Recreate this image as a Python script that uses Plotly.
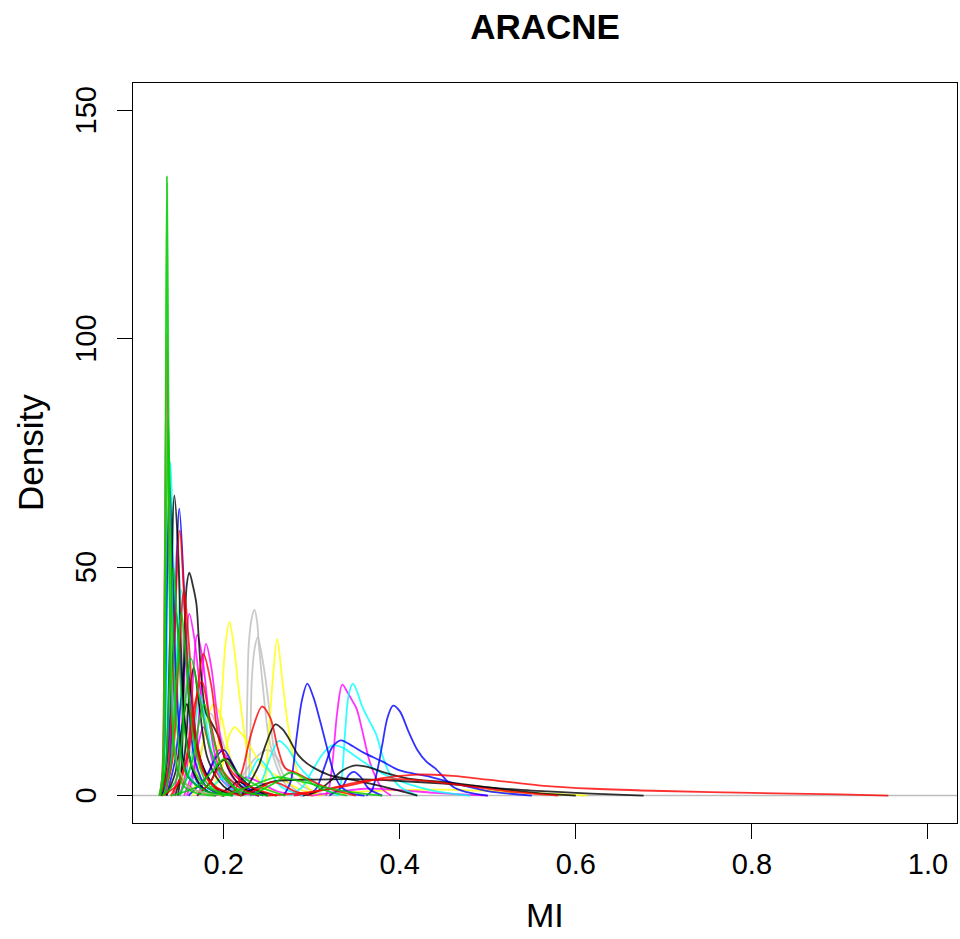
import plotly.graph_objects as go

# ---------------- data ----------------
# Each colour group: list of curves, every curve given as x-list / y-list
black_x = [
    [0.129, 0.134, 0.139, 0.144, 0.148, 0.152, 0.158, 0.166, 0.18, 0.2],
    [0.148, 0.152, 0.155, 0.158, 0.161, 0.165, 0.169, 0.1715, 0.175, 0.18, 0.186, 0.194, 0.205, 0.22, 0.24],
    [0.22, 0.228, 0.24, 0.2475, 0.2588, 0.267, 0.274, 0.285, 0.295, 0.304, 0.32, 0.345, 0.38, 0.42],
    [0.29, 0.305, 0.32, 0.335, 0.35, 0.365, 0.38, 0.41, 0.448, 0.48, 0.52, 0.56, 0.6],
    [0.22, 0.24, 0.26, 0.3, 0.35, 0.4, 0.45, 0.5, 0.55, 0.6, 0.64, 0.677],
    [0.17, 0.185, 0.195, 0.205, 0.215, 0.23, 0.25],
    [0.135, 0.145, 0.152, 0.158, 0.165, 0.175, 0.19, 0.21],
    [0.19, 0.205, 0.215, 0.225, 0.24, 0.26],
    [0.145, 0.155, 0.161, 0.166, 0.172, 0.182, 0.2, 0.22],
]
black_y = [
    [0, 5, 35, 65.7, 55, 30, 12, 5, 1, 0],
    [0, 6, 30, 46, 48.8, 46, 42, 35, 25, 18, 16, 13, 6, 2, 0],
    [0, 2.3, 6.6, 11, 15.6, 14.5, 12.5, 8.8, 7, 5.9, 4.5, 3.5, 2, 0],
    [0, 0.8, 3, 5.5, 6.6, 6.2, 5.2, 3.7, 3, 2.3, 1.3, 0.5, 0],
    [0, 2, 3.2, 3.5, 3.6, 3.2, 2.6, 1.8, 1.1, 0.6, 0.25, 0],
    [0, 3, 7, 8, 5, 2, 0],
    [0, 5, 14, 20, 15, 7, 2, 0],
    [0, 1.5, 3, 2.5, 1, 0],
    [0, 8, 22, 28, 20, 8, 2, 0],
]

red_x = [
    [0.127, 0.130, 0.133, 0.1355, 0.138, 0.141, 0.146, 0.155, 0.17, 0.2],
    [0.128, 0.136, 0.143, 0.150, 0.156, 0.163, 0.175, 0.19, 0.22],
    [0.13, 0.15, 0.165, 0.177, 0.186, 0.195, 0.21, 0.23, 0.26],
    [0.208, 0.215, 0.222, 0.232, 0.2436, 0.253, 0.262, 0.27, 0.282, 0.297, 0.32, 0.35],
    [0.25, 0.30, 0.35, 0.38, 0.42, 0.46, 0.50, 0.56, 0.62, 0.70, 0.80, 0.90, 0.955],
    [0.28, 0.32, 0.36, 0.40, 0.44, 0.48, 0.52, 0.58],
    [0.14, 0.155, 0.165, 0.175, 0.185, 0.2, 0.22],
    [0.17, 0.185, 0.195, 0.205, 0.22, 0.24],
    [0.133, 0.142, 0.149, 0.155, 0.161, 0.168, 0.18, 0.2],
    [0.22, 0.24, 0.255, 0.265, 0.28, 0.3],
]
red_y = [
    [0, 4, 50, 101, 60, 22, 8, 3, 1, 0],
    [0, 5, 30, 58, 40, 18, 6, 2, 0],
    [0, 3, 15, 31, 24, 12, 5, 2, 0],
    [0, 2, 6, 14, 19.5, 17, 10, 6, 5, 3.5, 1.5, 0],
    [0, 0.8, 2.5, 3.8, 4.6, 4.3, 3.5, 2.2, 1.5, 1.0, 0.6, 0.25, 0],
    [0, 1.5, 3.2, 3.6, 3.0, 2.0, 1.0, 0],
    [0, 6, 18, 25, 16, 5, 0],
    [0, 3, 6, 4, 1.5, 0],
    [0, 8, 30, 45, 32, 14, 4, 0],
    [0, 1.5, 3, 2.5, 1, 0],
]

green_x = [
    [0.127, 0.131, 0.134, 0.137, 0.140, 0.144, 0.15, 0.16, 0.18, 0.21],
    [0.128, 0.134, 0.139, 0.143, 0.148, 0.155, 0.165, 0.18, 0.21],
    [0.13, 0.145, 0.155, 0.163, 0.172, 0.185, 0.2, 0.22, 0.25],
    [0.14, 0.17, 0.19, 0.2, 0.215, 0.24, 0.27],
    [0.2, 0.23, 0.26, 0.29, 0.33, 0.38],
    [0.15, 0.165, 0.172, 0.178, 0.186, 0.2, 0.22],
    [0.132, 0.14, 0.147, 0.152, 0.158, 0.166, 0.18, 0.2],
    [0.23, 0.26, 0.275, 0.29, 0.31, 0.34],
    [0.127, 0.130, 0.1325, 0.134, 0.1355, 0.137, 0.139, 0.142, 0.147, 0.155, 0.17, 0.19],
]
green_y = [
    [0, 4, 40, 82, 55, 25, 10, 4, 1, 0],
    [0, 6, 30, 50, 35, 15, 6, 2, 0],
    [0, 3, 18, 30, 22, 10, 4, 1, 0],
    [0, 2, 6, 8, 5, 2, 0],
    [0, 2, 4, 3, 1.2, 0],
    [0, 8, 16, 20, 14, 5, 0],
    [0, 7, 28, 40, 28, 12, 3, 0],
    [0, 3, 5, 4, 1.5, 0],
    [0, 3, 25, 80, 135.5, 90, 40, 15, 6, 2, 0.5, 0],
]

lightgreen_x = [
    [0.127, 0.131, 0.1335, 0.1358, 0.138, 0.141, 0.146, 0.16, 0.2],
]
lightgreen_y = [
    [0, 5, 50, 134, 70, 25, 8, 2, 0],
]

blue_x = [
    [0.128, 0.132, 0.135, 0.1385, 0.142, 0.146, 0.152, 0.16, 0.18, 0.2],
    [0.13, 0.138, 0.144, 0.1496, 0.155, 0.16, 0.167, 0.18, 0.2],
    [0.268, 0.276, 0.283, 0.289, 0.295, 0.302, 0.31, 0.318, 0.325, 0.333, 0.345, 0.36],
    [0.362, 0.368, 0.374, 0.38, 0.386, 0.3924, 0.40, 0.41, 0.42, 0.43, 0.44, 0.45, 0.46, 0.475, 0.5],
    [0.295, 0.305, 0.315, 0.323, 0.333, 0.345, 0.36, 0.38, 0.40, 0.43, 0.46, 0.5, 0.55],
    [0.135, 0.145, 0.152, 0.157, 0.163, 0.172, 0.185, 0.2],
    [0.16, 0.18, 0.19, 0.2, 0.21, 0.225, 0.245],
    [0.32, 0.335, 0.342, 0.348, 0.355, 0.365, 0.38],
    [0.13, 0.137, 0.142, 0.146, 0.151, 0.158, 0.17, 0.19],
]
blue_y = [
    [0, 8, 40, 68.4, 50, 25, 10, 4, 1, 0],
    [0, 6, 35, 62.8, 45, 22, 8, 2, 0],
    [0, 3, 13, 21, 24.5, 21.5, 16, 10, 5, 2, 0.5, 0],
    [0, 1, 5, 11, 17, 19.7, 18.5, 14, 10, 7.5, 6, 4, 2, 0.8, 0],
    [0, 1.5, 6.5, 10.5, 12.1, 11, 9.3, 7.5, 5.5, 4.3, 2.8, 1, 0],
    [0, 8, 22, 30, 22, 9, 3, 0],
    [0, 4, 8, 10, 7, 2, 0],
    [0, 2, 4.5, 5.2, 4.2, 1.5, 0],
    [0, 10, 30, 40, 28, 12, 3, 0],
]

cyan_x = [
    [0.128, 0.133, 0.1365, 0.1397, 0.143, 0.147, 0.153, 0.162, 0.18, 0.2],
    [0.33, 0.334, 0.338, 0.342, 0.3468, 0.352, 0.357, 0.365, 0.373, 0.38, 0.388, 0.40, 0.42],
    [0.235, 0.245, 0.252, 0.2626, 0.272, 0.285, 0.297, 0.31, 0.33],
    [0.275, 0.29, 0.30, 0.312, 0.323, 0.335, 0.354, 0.37, 0.385, 0.41, 0.44, 0.48],
    [0.132, 0.14, 0.146, 0.152, 0.158, 0.165, 0.175, 0.19, 0.21],
    [0.15, 0.162, 0.168, 0.173, 0.18, 0.19, 0.205, 0.225],
    [0.17, 0.19, 0.2, 0.21, 0.225, 0.25],
    [0.21, 0.228, 0.24, 0.25, 0.265, 0.29],
]
cyan_y = [
    [0, 8, 45, 73, 50, 25, 10, 4, 1, 0],
    [0, 3.7, 14, 22, 24.5, 22.5, 19.7, 16.5, 13.5, 9, 5, 2, 0],
    [0, 4, 8, 12, 10.5, 6.6, 4, 2, 0],
    [0, 2, 5.2, 9, 11, 10.5, 8, 6, 4.4, 2.5, 1, 0],
    [0, 6, 28, 45, 35, 18, 7, 2, 0],
    [0, 6, 16, 22, 16, 7, 2, 0],
    [0, 2.5, 4, 3, 1, 0],
    [0, 4, 8, 6, 2, 0],
]

magenta_x = [
    [0.143, 0.150, 0.155, 0.161, 0.167, 0.174, 0.182, 0.19, 0.20, 0.215, 0.24],
    [0.150, 0.158, 0.164, 0.170, 0.176, 0.183, 0.19, 0.2, 0.215, 0.24],
    [0.158, 0.166, 0.173, 0.180, 0.186, 0.193, 0.2, 0.21, 0.225, 0.25],
    [0.316, 0.32, 0.3245, 0.329, 0.3347, 0.3404, 0.346, 0.351, 0.357, 0.365, 0.372, 0.38, 0.39],
    [0.17, 0.185, 0.195, 0.205, 0.22, 0.24],
    [0.19, 0.21, 0.225, 0.24, 0.26, 0.29],
    [0.3, 0.33, 0.36, 0.40, 0.44, 0.5],
    [0.155, 0.166, 0.172, 0.177, 0.185, 0.2, 0.22],
]
magenta_y = [
    [0, 8, 25, 39.8, 34, 22, 12, 6, 3, 1, 0],
    [0, 6, 22, 35.2, 30, 18, 9, 4, 1, 0],
    [0, 5, 20, 33.2, 28, 17, 9, 4, 1.5, 0],
    [0, 2, 9, 18.3, 24.3, 22.7, 20.8, 19, 14.6, 8, 4.3, 1.5, 0],
    [0, 6, 10, 8, 3, 0],
    [0, 2, 4, 3, 1, 0],
    [0, 0.8, 1.5, 1.2, 0.6, 0],
    [0, 6, 12, 15, 10, 3, 0],
]

yellow_x = [
    [0.186, 0.1905, 0.194, 0.198, 0.202, 0.2065, 0.2114, 0.217, 0.2228, 0.2285, 0.236, 0.25, 0.27],
    [0.243, 0.2475, 0.2512, 0.2558, 0.2607, 0.2664, 0.272, 0.278, 0.2854, 0.297, 0.31],
    [0.185, 0.195, 0.202, 0.207, 0.2125, 0.218, 0.2247, 0.236, 0.2475, 0.266, 0.285, 0.31],
    [0.165, 0.172, 0.179, 0.184, 0.1886, 0.193, 0.198, 0.2057, 0.2133, 0.225, 0.24],
    [0.3, 0.35, 0.4, 0.45, 0.5, 0.55, 0.613],
    [0.14, 0.155, 0.165, 0.175, 0.19, 0.21],
]
yellow_y = [
    [0, 2.3, 11, 22, 33, 38.1, 33, 23.4, 14.6, 8, 4.4, 1.5, 0],
    [0, 3.7, 13.2, 25.6, 34.3, 25.6, 16.8, 9.6, 4.4, 1.5, 0],
    [0, 4, 9.6, 13.5, 15, 14, 12.5, 8.8, 5.9, 3.7, 1.5, 0],
    [0, 6, 14.6, 18.5, 20, 19, 16.8, 9.6, 5.2, 2, 0],
    [0, 0.8, 1.2, 1.3, 1.0, 0.6, 0],
    [0, 4, 9, 6, 2, 0],
]

gray_x = [
    [0.221, 0.2247, 0.2265, 0.2285, 0.232, 0.235, 0.238, 0.24, 0.2455, 0.251, 0.259, 0.27, 0.285],
    [0.225, 0.2285, 0.232, 0.235, 0.2387, 0.243, 0.2475, 0.253, 0.257, 0.2626, 0.272, 0.29],
    [0.13, 0.137, 0.142, 0.147, 0.152, 0.158, 0.166, 0.18, 0.2],
    [0.16, 0.175, 0.185, 0.195, 0.21, 0.23, 0.25],
    [0.2, 0.22, 0.235, 0.25, 0.27, 0.29, 0.32],
]
gray_y = [
    [0, 3.7, 18, 33, 39, 40.7, 38, 33, 22, 13, 7, 2.5, 0],
    [0, 3.7, 25.6, 32, 34.7, 31, 25.6, 16.8, 10.3, 7, 3, 0],
    [0, 8, 35, 55, 40, 18, 7, 2, 0],
    [0, 10, 18, 14, 6, 2, 0],
    [0, 4, 8, 10, 6, 2, 0],
]

x_ticks = [0.2, 0.4, 0.6, 0.8, 1.0]
x_tick_text = ["0.2", "0.4", "0.6", "0.8", "1.0"]
y_ticks = [0, 50, 100, 150]
y_tick_text = ["0", "50", "100", "150"]

# ---------------- figure ----------------
groups = [
    (gray_x, gray_y, "#BEBEBE"),
    (yellow_x, yellow_y, "#FFFF00"),
    (magenta_x, magenta_y, "#FF00FF"),
    (cyan_x, cyan_y, "#00FFFF"),
    (blue_x, blue_y, "#0000FF"),
    (black_x, black_y, "#000000"),
    (red_x, red_y, "#FF0000"),
    (lightgreen_x, lightgreen_y, "#8FE28F"),
    (green_x, green_y, "#00CD00"),
]

fig = go.Figure()
for xs_list, ys_list, col in groups:
    for xs, ys in zip(xs_list, ys_list):
        fig.add_trace(go.Scatter(
            x=xs, y=ys, mode="lines",
            line=dict(color=col, width=1.8, shape="spline", smoothing=0.9),
            opacity=0.8, hoverinfo="skip", showlegend=False,
        ))

FONT = "Liberation Sans, Arial, Helvetica, sans-serif"

fig.add_shape(type="line", xref="paper", yref="y", x0=0, x1=1, y0=0, y1=0,
              line=dict(color="#BEBEBE", width=1.5), layer="below")

# y tick labels (rotated, R style) placed as annotations at the tick values
y_label_annotations = [
    dict(text=t, xref="paper", yref="y", x=(86 - 133) / 824, y=v,
         xanchor="center", yanchor="middle", textangle=-90, showarrow=False,
         font=dict(family=FONT, size=29, color="black"))
    for v, t in zip(y_ticks, y_tick_text)
]

fig.update_layout(
    width=960, height=939,
    margin=dict(l=133, r=3, t=83, b=116),
    plot_bgcolor="white", paper_bgcolor="white",
    showlegend=False,
    title=dict(text="<b>ARACNE</b>", x=0.5, xref="paper", xanchor="center",
               y=1 - 27 / 939, yref="container", yanchor="middle",
               font=dict(family=FONT, size=35, color="black")),
    xaxis=dict(range=[0.097, 1.033], tickvals=x_ticks, ticktext=x_tick_text,
               ticks="outside", ticklen=15, tickwidth=1, tickcolor="black",
               showline=True, mirror=True, linecolor="black", linewidth=1,
               showgrid=False, zeroline=False,
               tickfont=dict(family=FONT, size=29, color="black")),
    yaxis=dict(range=[-6, 156], tickvals=y_ticks, showticklabels=False,
               ticks="outside", ticklen=15, tickwidth=1, tickcolor="black",
               showline=True, mirror=True, linecolor="black", linewidth=1,
               showgrid=False, zeroline=False),
    annotations=[
        dict(text="MI", xref="paper", yref="paper", x=0.5, y=(823 - 915) / 740,
             xanchor="center", yanchor="middle", showarrow=False,
             font=dict(family=FONT, size=34, color="black")),
        dict(text="Density", xref="paper", yref="paper", x=(30 - 133) / 824, y=0.5,
             xanchor="center", yanchor="middle", textangle=-90, showarrow=False,
             font=dict(family=FONT, size=35, color="black")),
    ] + y_label_annotations,
)

fig.write_html("out.html")
